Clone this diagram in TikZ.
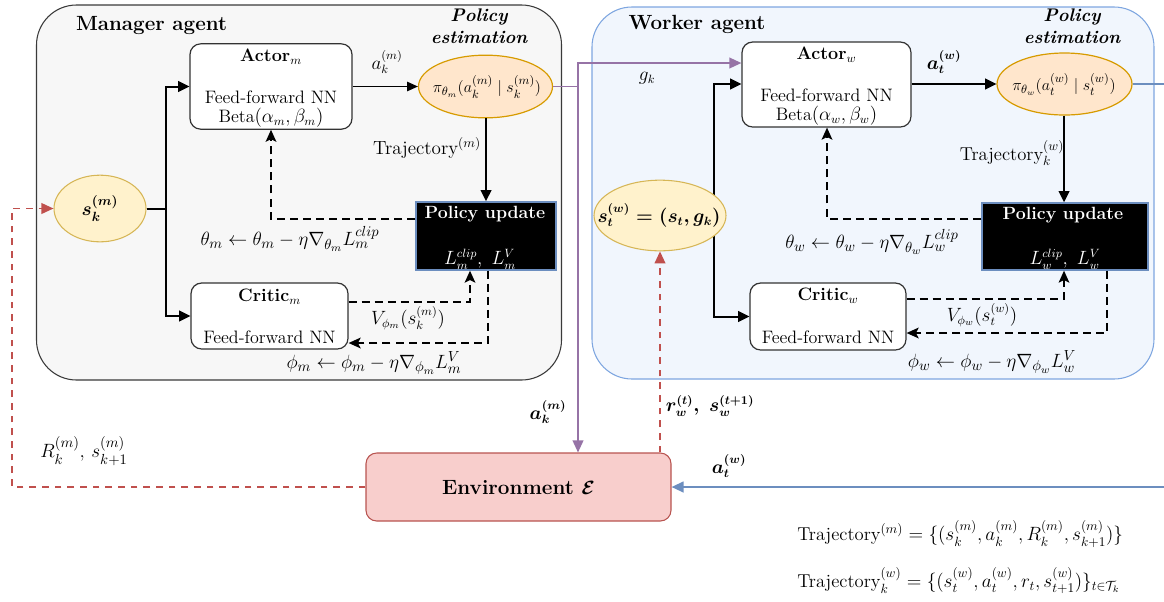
\documentclass[tikz,border=0pt]{standalone}
\usepackage{amsmath,amssymb}
\usetikzlibrary{arrows.meta,calc,shapes.geometric}
\definecolor{mgrfill}{HTML}{F7F7F7}
\definecolor{mgrline}{HTML}{3A3A3A}
\definecolor{wkrfill}{HTML}{F1F6FD}
\definecolor{wkrline}{HTML}{7EA6E0}
\definecolor{pifill}{HTML}{FFE6CC}
\definecolor{piline}{HTML}{D79B00}
\definecolor{stfill}{HTML}{FFF2CC}
\definecolor{stline}{HTML}{D6B656}
\definecolor{envfill}{HTML}{F8CECC}
\definecolor{envline}{HTML}{B85450}
\definecolor{purp}{HTML}{9673A6}
\definecolor{bluel}{HTML}{6C8EBF}
\definecolor{redl}{HTML}{C0504D}
\pgfdeclarelayer{bg}
\pgfdeclarelayer{mid}
\pgfsetlayers{bg,mid,main}
\tikzset{
  agent/.style={draw, rounded corners=30pt, line width=0.8pt},
  netbox/.style={draw=black!80, fill=white, rounded corners=8pt, line width=0.9pt},
  pubox/.style={draw=bluel, fill=black, line width=1pt},
  piell/.style={ellipse, draw=piline, fill=pifill, line width=0.9pt, inner sep=0pt},
  stell/.style={ellipse, draw=stline, fill=stfill, line width=0.8pt, inner sep=0pt},
  envbox/.style={draw=envline, fill=envfill, rounded corners=8pt, line width=0.8pt},
  solidarr/.style={line width=1.5pt, -{Triangle[length=8.5pt,width=8pt]}},
  thinarr/.style={line width=0.8pt, -{Triangle[length=8pt,width=7pt]}},
  dasharr/.style={line width=1.5pt, dash pattern=on 6pt off 3.8pt, -{Stealth[length=9pt,width=8pt,inset=2pt]}},
  reddash/.style={draw=redl, line width=1.2pt, dash pattern=on 5pt off 4.5pt, -{Triangle[length=9pt,width=8pt]}},
  purarr/.style={draw=purp, line width=1.2pt, -{Triangle[length=9pt,width=8pt]}},
  bluearr/.style={draw=bluel, line width=1.6pt, -{Triangle[length=9pt,width=8pt]}},
  lbl/.style={inner sep=0pt},
  rule/.style={inner sep=0pt, font=\fontsize{15.5}{18}\selectfont},
  boldlbl/.style={inner sep=0pt, font=\fontsize{13.5}{16}\selectfont\boldmath},
  pitxt/.style={inner sep=0pt, font=\fontsize{13}{15}\selectfont},
  headtxt/.style={inner sep=0pt, font=\fontsize{15.4}{17}\selectfont\bfseries},
  pehead/.style={inner sep=0pt, font=\fontsize{13.7}{15}\selectfont\bfseries\itshape},
  putxt/.style={inner sep=0pt, text=white, font=\fontsize{13.3}{15}\selectfont\bfseries},
}
\begin{document}
\begin{tikzpicture}[x=0.75pt, y=-0.75pt, font=\fontsize{13.5}{16}\selectfont]
\useasboundingbox (0,0) rectangle (1164,601);

% ---- agent frames
\begin{pgfonlayer}{bg}
\node[agent, draw=mgrline, fill=mgrfill, minimum width=393.75pt, minimum height=281.25pt] (mgr) at (299,192.5) {};
\node[agent, draw=wkrline, fill=wkrfill, minimum width=421.5pt, minimum height=279pt] (wkr) at (873,193) {};
\end{pgfonlayer}

\node[headtxt] (mgrtitle) at (151.5,26) {Manager agent};
\node[pehead] (pem1) at (479,17) {Policy};
\node[pehead] (pem2) at (479,37) {estimation};
\node[headtxt] (wkrtitle) at (697,24) {Worker agent};
\node[pehead] (pew1) at (1072,17) {Policy};
\node[pehead] (pew2) at (1072,37) {estimation};

% ---- manager blocks
\node[netbox, minimum width=121.5pt, minimum height=64pt] (actm) at (271,86.5) {};
\node[lbl] (actmt) at (271,57) {\textbf{Actor}$_m$};
\node[lbl] (actmf) at (271,97) {Feed-forward NN};
\node[lbl] (actmb) at (271,118) {Beta$(\alpha_m,\beta_m)$};

\node[netbox, minimum width=117.75pt, minimum height=49.5pt] (crm) at (269.5,316) {};
\node[lbl] (crmt) at (269.5,297) {\textbf{Critic}$_m$};
\node[lbl] (crmf) at (269.5,337) {Feed-forward NN};

\node[pubox, minimum width=105pt, minimum height=51pt] (pum) at (486,236) {};
\node[putxt] (pumt) at (485,214) {Policy update};
\node[lbl, text=white] (puml) at (480,259) {$L_m^{clip},\ L_m^{V}$};

\node[piell, minimum width=100.5pt, minimum height=47pt] (pim) at (485.5,86.5) {};
\node[pitxt] (pimt) at (487,87) {$\pi_{\theta_m}(a_k^{(m)}\mid s_k^{(m)})$};
\node[stell, minimum width=69pt, minimum height=50pt] (sk) at (100,208.5) {};
\node[lbl, font=\fontsize{14.5}{17}\selectfont\boldmath] (skt) at (100,208.5) {$s_k^{(m)}$};

% ---- worker blocks
\node[netbox, minimum width=126.75pt, minimum height=63.75pt] (actw) at (826.5,84.5) {};
\node[lbl] (actwt) at (826.5,55) {\textbf{Actor}$_w$};
\node[lbl] (actwf) at (826.5,95) {Feed-forward NN};
\node[lbl] (actwb) at (826.5,116) {Beta$(\alpha_w,\beta_w)$};

\node[netbox, minimum width=117pt, minimum height=50.25pt] (crw) at (828,316.5) {};
\node[lbl] (crwt) at (828,296) {\textbf{Critic}$_w$};
\node[lbl] (crwf) at (828,337) {Feed-forward NN};

\node[pubox, minimum width=124.5pt, minimum height=50.25pt] (puw) at (1065,236.5) {};
\node[putxt] (puwt) at (1063,215) {Policy update};
\node[lbl, text=white] (puwl) at (1065,259) {$L_w^{clip},\ L_w^{V}$};

\node[piell, minimum width=101.25pt, minimum height=46.5pt] (piw) at (1064.5,84) {};
\node[pitxt] (piwt) at (1064,84.5) {$\pi_{\theta_w}(a_t^{(w)}\mid s_t^{(w)})$};
\node[stell, minimum width=99pt, minimum height=53pt] (sw) at (660,215.5) {};
\node[lbl, font=\fontsize{13.5}{16}\selectfont\boldmath] (swt) at (659,215.5) {$s_t^{(w)}=(s_t,g_k)$};

% ---- environment
\node[envbox, minimum width=228.75pt, minimum height=51pt] (env) at (518.5,487) {};
\node[lbl, font=\fontsize{15.5}{17}\selectfont\bfseries] (envt) at (518.5,488) {Environment $\boldsymbol{\mathcal{E}}$};

% ---- helper coordinates
\coordinate (jm) at (165.5,208.5);
\coordinate (jw) at (714,215.5);
\coordinate (ym1) at (0,219);
\coordinate (ym2) at (0,302);
\coordinate (ym3) at (0,343);
\coordinate (yw2) at (0,299);
\coordinate (yw3) at (0,333);
\coordinate (xm1) at (271,0);
\coordinate (xm2) at (470,0);
\coordinate (xm3) at (488,0);
\coordinate (xw1) at (827,0);
\coordinate (xw2) at (1064,0);
\coordinate (xw3) at (1107,0);
\coordinate (pv) at (578,0);
\coordinate (gy) at (0,63);
\coordinate (rc) at (12,0);
\coordinate (bx) at (1185,0);

% ---- manager connectors
\draw[line width=1.5pt] (sk.east) -- (jm);
\draw[solidarr] (jm) |- (actm.west);
\draw[solidarr] (jm) |- (crm.west);
\draw[thinarr] (actm.east |- pim.west) -- (pim.west);
\draw[solidarr] (pim.south -| pum.north) -- (pum.north);
\draw[dasharr] (pum.west |- ym1) -| (actm.south -| xm1);
\draw[dasharr] (crm.east |- ym2) -| (pum.south -| xm2);
\draw[dasharr] (pum.south -| xm3) |- (crm.east |- ym3);

% ---- worker connectors
\begin{pgfonlayer}{mid}
\draw[solidarr] (jw) |- (actw.west |- piw.west);
\draw[solidarr] (jw) |- (crw.west);
\end{pgfonlayer}
\draw[solidarr] (actw.east |- piw.west) -- (piw.west);
\draw[solidarr] (piw.south -| xw2) -- (puw.north -| xw2);
\draw[dasharr] (puw.west |- ym1) -| (actw.south -| xw1);
\draw[dasharr] (crw.east |- yw2) -| (puw.south -| xw2);
\draw[dasharr] (puw.south -| xw3) |- (crw.east |- yw3);

% ---- links between agents and environment
\draw[purarr] (pim.east) -| (pv |- env.north);
\draw[purarr] (pv |- pim.east) |- (actw.west |- gy);
\draw[reddash] (env.west) -| (rc |- sk.west) -- (sk.west);
\draw[reddash] (sw.south |- env.north) -- (sw.south);
\draw[bluearr] (piw.east) -| (bx |- env.east) -- (env.east);

% ---- labels
\node[lbl] (lam) at (387,62) {$a_k^{(m)}$};
\node[lbl, font=\fontsize{14.3}{16}\selectfont] (ltm) at (427,148) {Trajectory$^{(m)}$};
\node[rule] (lthm) at (290,239) {$\theta_m \leftarrow \theta_m - \eta\nabla_{\theta_m} L_m^{clip}$};
\node[lbl] (lvm) at (408,318) {$V_{\phi_m}(s_k^{(m)})$};
\node[rule] (lphm) at (374,363) {$\phi_m \leftarrow \phi_m - \eta\nabla_{\phi_m} L_m^{V}$};

\node[boldlbl] (law) at (944,62) {$a_t^{(w)}$};
\node[lbl, font=\fontsize{14}{16}\selectfont] (ltw) at (1012,153) {Trajectory$_k^{(w)}$};
\node[rule] (lthw) at (872,242) {$\theta_w \leftarrow \theta_w - \eta\nabla_{\theta_w} L_w^{clip}$};
\node[lbl] (lvw) at (982,315) {$V_{\phi_w}(s_t^{(w)})$};
\node[rule] (lphw) at (992,362) {$\phi_w \leftarrow \phi_w - \eta\nabla_{\phi_w} L_w^{V}$};

\node[lbl] (lgk) at (647,78) {$g_k$};
\node[boldlbl] (lak) at (548,412) {$a_k^{(m)}$};
\node[boldlbl] (lrw) at (710,406) {$r_w^{(t)},\ s_w^{(t+1)}$};
\node[lbl, font=\fontsize{15.5}{18}\selectfont] (lRk) at (84,451) {$R_k^{(m)},\, s_{k+1}^{(m)}$};
\node[boldlbl] (lat) at (729,466) {$a_t^{(w)}$};

\node[lbl, anchor=west, font=\fontsize{14}{16}\selectfont] (eq1) at (797,534) {Trajectory$^{(m)}=\{(s_k^{(m)},a_k^{(m)},R_k^{(m)},s_{k+1}^{(m)})\}$};
\node[lbl, anchor=west, font=\fontsize{14}{16}\selectfont] (eq2) at (797,581) {Trajectory$_k^{(w)}=\{(s_t^{(w)},a_t^{(w)},r_t,s_{t+1}^{(w)})\}_{t\in\mathcal{T}_k}$};
\end{tikzpicture}
\end{document}
